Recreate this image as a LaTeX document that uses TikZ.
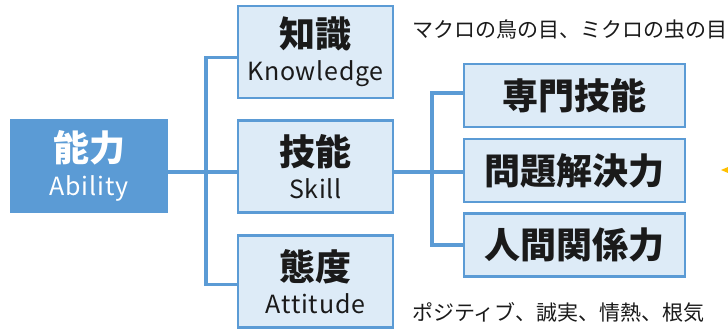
\documentclass[tikz,border=0pt]{standalone}
\usepackage{fontspec}
\setmainfont{Noto Sans CJK JP}
\definecolor{mblue}{HTML}{5B9BD5}
\definecolor{lblue}{HTML}{DDEBF7}
\definecolor{txt}{HTML}{1A1A1A}
\definecolor{orng}{HTML}{FFC000}
\newcommand{\bigjp}[1]{{\fontsize{36}{40}\selectfont\bfseries #1}}
\newcommand{\smlat}[1]{{\fontsize{25}{30}\selectfont\addfontfeatures{LetterSpace=3}#1}}
\begin{document}
\begin{tikzpicture}[x=1pt,y=-1pt,
  twobox/.style={draw=mblue,line width=2.5pt,fill=lblue,minimum width=155pt,minimum height=92pt,inner sep=0pt,outer sep=0pt,align=center,text=txt},
  mainbox/.style={fill=mblue,minimum width=158pt,minimum height=94pt,inner sep=0pt,outer sep=0pt,align=center,text=white},
  onebox/.style={draw=mblue,line width=2.5pt,fill=lblue,minimum width=221pt,minimum height=63pt,inner sep=0pt,outer sep=0pt,text=txt},
  conn/.style={draw=mblue,line width=3.2pt},
  note/.style={anchor=west,inner sep=0pt,text=txt,font=\fontsize{21}{24}\selectfont}]
\useasboundingbox (0,0) rectangle (728,329);
\node[mainbox] (A) at (89,166) {\bigjp{能力}\\[9pt]\smlat{Ability}};
\node[twobox] (K) at (315.5,52) {\bigjp{知識}\\[9pt]\smlat{Knowledge}};
\node[twobox] (S) at (315.5,166.5) {\bigjp{技能}\\[9pt]\smlat{Skill}};
\node[twobox] (T) at (315.5,281.5) {\bigjp{態度}\\[9pt]\smlat{Attitude}};
\node[onebox] (B1) at (574.5,95.5) {\bigjp{専門技能}};
\node[onebox] (B2) at (574.5,170.5) {\bigjp{問題解決力}};
\node[onebox] (B3) at (574.5,245) {\bigjp{人間関係力}};
\node[note] (N1) at (412,30) {マクロの鳥の目、ミクロの虫の目};
\node[note] (N2) at (412,312) {ポジティブ、誠実、情熱、根気};
\coordinate (tr) at (206,0);
\coordinate (tr2) at (432,0);
\draw[conn] ([yshift=-6pt]A.east) -- ([yshift=-6pt]A.east -| S.west);
\draw[conn] ([yshift=-5.5pt]K.west) -| ([yshift=-3pt]T.west -| tr) -- ([yshift=-3pt]T.west);
\draw[conn] ([yshift=-5.5pt]S.east) -- ([yshift=-5.5pt]S.east -| B2.west);
\draw[conn] ([yshift=2.5pt]B1.west) -| (B3.west -| tr2) -- (B3.west);
\fill[orng] (721,170) -- (728,167) -- (728,173) -- cycle;
\end{tikzpicture}
\end{document}
